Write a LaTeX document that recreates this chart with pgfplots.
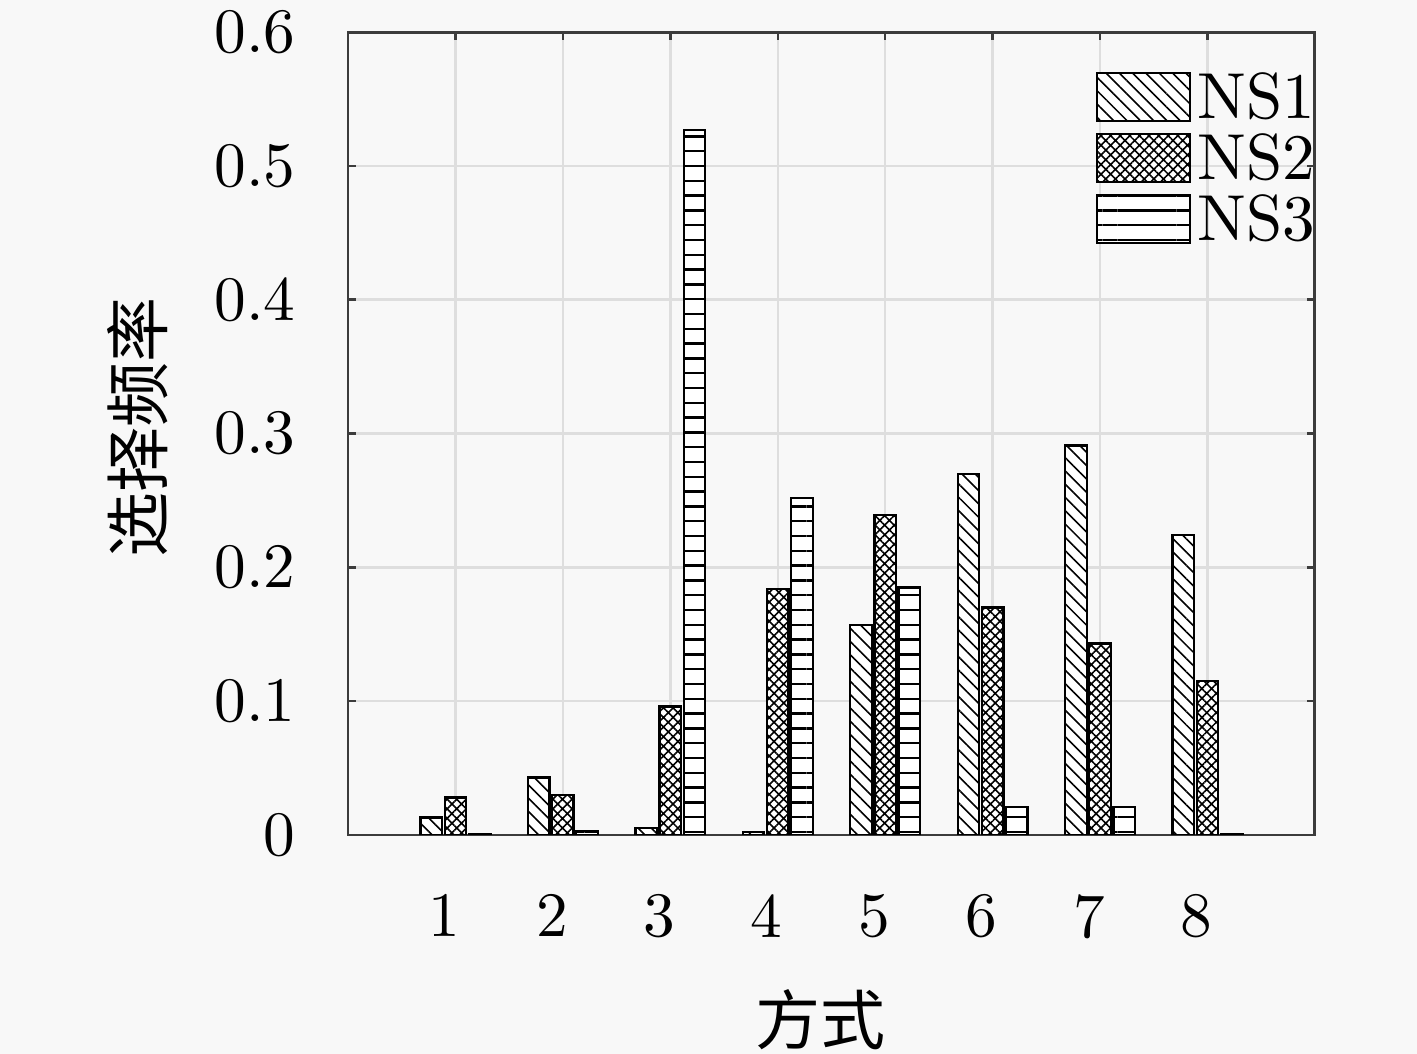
\documentclass[border=0pt]{standalone}
\usepackage{fontspec}
\setmainfont{lmroman10-regular.otf}
\newfontfamily\cjk{Noto Sans CJK SC}
\usepackage{pgfplots}
\pgfplotsset{compat=1.18}
\usetikzlibrary{patterns.meta}
\definecolor{bg}{RGB}{248,248,248}
\definecolor{gridc}{RGB}{222,222,222}
\definecolor{axc}{RGB}{60,60,60}
\pgfplotstableread{
x ns1 ns2 ns3
1 0.013 0.028 0.001
2 0.043 0.030 0.003
3 0.005 0.096 0.527
4 0.002 0.184 0.252
5 0.157 0.239 0.185
6 0.270 0.170 0.021
7 0.291 0.143 0.021
8 0.224 0.115 0.001
}\datatable
\begin{document}
\begin{tikzpicture}
\fill[bg] (0,0) rectangle (14.17,10.54);
\useasboundingbox (0,0) rectangle (14.17,10.54);
\begin{axis}[
  at={(3.48cm,2.19cm)}, anchor=south west,
  scale only axis, width=9.67cm, height=8.03cm,
  xmin=0, xmax=9, ymin=0, ymax=0.6,
  xtick={1,2,3,4,5,6,7,8},
  ytick={0,0.1,0.2,0.3,0.4,0.5,0.6},
  /pgf/number format/assume math mode=true,
  grid=major,
  major grid style={gridc, line width=0.7pt},
  axis line style={axc, line width=0.85pt},
  tick style={axc, line width=0.7pt},
  major tick length=0.08cm,
  tick align=inside,
  ticklabel style={font=\fontsize{18}{21}\selectfont},
  xticklabel style={yshift=-0.47cm, xshift=-0.11cm},
  yticklabel style={xshift=-0.40cm},
  xlabel={\cjk 方式},
  ylabel={\cjk 选择频率},
  label style={font=\fontsize{18.5}{22}\selectfont},
  xlabel style={at={(axis description cs:0.489,-0.2304)}, anchor=center},
  ylabel style={at={(axis description cs:-0.218,0.507)}, anchor=center},
  legend style={at={(axis description cs:0.7725,0.9515)}, anchor=north west,
    draw=none, fill=none, inner sep=0pt, row sep=0pt, column sep=0.07cm,
    nodes={inner sep=0pt, text height=0.40cm, text depth=0.14cm},
    font=\fontsize{18.5}{21}\selectfont},
  legend cell align=left,
  legend image code/.code={\draw[#1] (0cm,-0.151cm) rectangle (0.93cm,0.329cm);},
]
\addplot[ybar, bar width=0.2, bar shift=-0.225, draw=black, line width=0.65pt, fill=white,
  postaction={pattern={Lines[angle=-45, distance=0.094cm, line width=0.45pt]}, pattern color=black}]
  table[x=x, y=ns1] {\datatable};
\addlegendentry{NS1}
\addplot[ybar, bar width=0.2, bar shift=0, draw=black, line width=0.65pt, fill=white,
  postaction={pattern={Hatch[angle=45, distance=0.068cm, line width=0.45pt]}, pattern color=black}]
  table[x=x, y=ns2] {\datatable};
\addlegendentry{NS2}
\addplot[ybar, bar width=0.2, bar shift=0.225, draw=black, line width=0.65pt, fill=white,
  postaction={pattern={Lines[angle=0, distance=0.148cm, line width=0.65pt]}, pattern color=black}]
  table[x=x, y=ns3] {\datatable};
\addlegendentry{NS3}
\end{axis}
\end{tikzpicture}
\end{document}
